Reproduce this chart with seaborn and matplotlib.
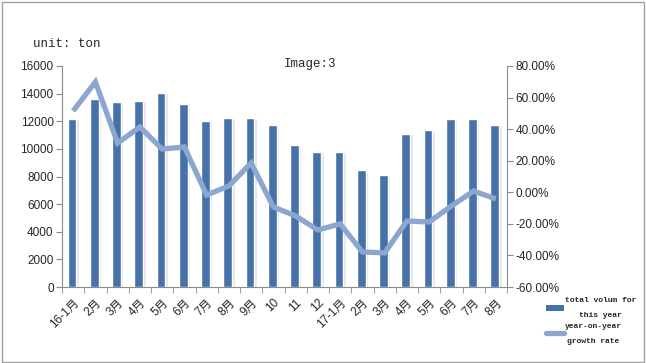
import matplotlib
matplotlib.use("Agg")
import matplotlib.pyplot as plt
import seaborn as sns
import pandas as pd
import numpy as np
from matplotlib.lines import Line2D
from matplotlib.patches import Patch, Rectangle

months = ["16-1月", "2月", "3月", "4月", "5月", "6月", "7月", "8月", "9月", "10",
          "11", "12", "17-1月", "2月", "3月", "4月", "5月", "6月", "7月", "8月"]
volume = [12150, 13600, 13400, 13450, 14050, 13250, 12050, 12250, 12250, 11750,
          10300, 9750, 9750, 8450, 8100, 11050, 11350, 12150, 12150, 11750]
growth = [51.5, 69.9, 31.2, 41.4, 27.4, 28.7, -1.7, 4.0, 18.6, -9.3,
          -15.0, -23.9, -20.0, -37.8, -38.4, -18.2, -18.8, -8.7, 0.8, -4.2]
left_ticks = [0, 2000, 4000, 6000, 8000, 10000, 12000, 14000, 16000]
right_ticks = [-60, -40, -20, 0, 20, 40, 60, 80]

sns.set_style("white")
plt.rcParams['font.family'] = ['Liberation Sans', 'Noto Sans CJK SC', 'DejaVu Sans']

df = pd.DataFrame({"idx": np.arange(len(months)), "volume": volume, "growth": growth})

BAR = "#4672A9"
LINE = "#8CA6D0"
GREY = "#8C8C8C"

fig = plt.figure(figsize=(6.46, 3.63), dpi=100)
ax = fig.add_axes([62/646, 1-287/363, 445/646, 221/363])

# faint shadow bars
sns.barplot(data=df, x="idx", y="volume", ax=ax, color="#E3E3E3", width=0.48,
            saturation=1, errorbar=None)
n_shadow = len(ax.patches)
for p in ax.patches:
    p.set_x(p.get_x() + 0.02)
sns.barplot(data=df, x="idx", y="volume", ax=ax, color=BAR, width=0.4,
            saturation=1, errorbar=None)
for p in ax.patches[n_shadow:]:
    p.set_x(p.get_x() - 0.05)

ax.set_ylim(0, 16000)
ax.set_xlim(-0.5, len(months) - 0.5)
ax.set_yticks(left_ticks)
ax.set_yticklabels([str(t) for t in left_ticks], fontsize=8.5)
ax.set_xticks(np.arange(len(months)))
ax.set_xticklabels(months, rotation=45, ha="right", rotation_mode="anchor", fontsize=8.5)
ax.tick_params(axis="x", length=0, pad=7)
ax.set_xticks(np.arange(-0.5, len(months)), minor=True)
ax.tick_params(axis="x", which="minor", length=4, color=GREY, direction="out", bottom=True)
ax.tick_params(axis="y", length=4, color=GREY, direction="out", left=True, pad=2)
ax.set_xlabel("")
ax.set_ylabel("")
for s in ["top", "right"]:
    ax.spines[s].set_visible(False)
for s in ["left", "bottom"]:
    ax.spines[s].set_color(GREY)
    ax.spines[s].set_linewidth(0.8)

ax2 = ax.twinx()
sns.lineplot(data=df, x="idx", y="growth", ax=ax2, color=LINE, linewidth=3.8,
             solid_joinstyle="miter", solid_capstyle="butt", legend=False)
ax2.set_ylim(-60, 80)
ax2.set_xlim(-0.5, len(months) - 0.5)
ax2.set_yticks(right_ticks)
ax2.set_yticklabels([f"{t:.2f}%" for t in right_ticks], fontsize=8.5)
ax2.tick_params(axis="y", length=4, color=GREY, direction="out", right=True, pad=2)
ax2.set_ylabel("")
for s in ["top", "left", "bottom"]:
    ax2.spines[s].set_visible(False)
ax2.spines["right"].set_color(GREY)
ax2.spines["right"].set_linewidth(0.8)

mono = ['Liberation Mono', 'Noto Sans CJK SC', 'DejaVu Sans Mono']
fig.text(33/646, 1-44/363, "unit: ton", family=mono, fontsize=9, va="center", ha="left")
fig.text(310/646, 1-64/363, "Image:3", family=mono, fontsize=9, va="center", ha="center")

# legend
handles = [Patch(facecolor=BAR, edgecolor="none"),
           Line2D([0], [0], color=LINE, linewidth=3.8)]
labels = ["total volum for\nthis year", "year-on-year\ngrowth rate"]
leg = fig.legend(handles, labels, loc="center left", bbox_to_anchor=(542/646, 1-321/363),
                 frameon=False, prop={"family": mono, "size": 5.8, "weight": "bold"},
                 handlelength=2.2, handletextpad=0.1, labelspacing=0.4, borderpad=0)
for t in leg.get_texts():
    t.set_multialignment("center")
    t.set_linespacing(2.6)

# outer border
fig.patches.append(Rectangle((0.003, 0.004), 0.994, 0.99, transform=fig.transFigure,
                             fill=False, edgecolor="#A0A0A0", linewidth=1.0))

fig.savefig("out.png", dpi=100)
